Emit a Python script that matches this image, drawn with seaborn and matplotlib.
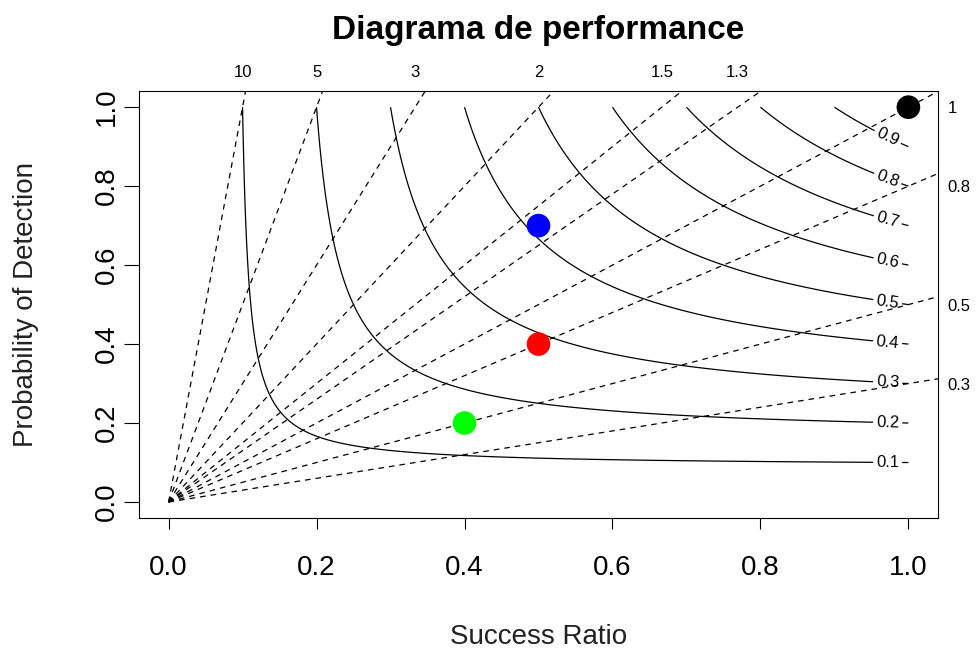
"""
Diagrama de performance (Roebber) : POD vs Success Ratio,
contours CSI (traits pleins) et biais (tirets).
"""

import numpy as np
import pandas as pd
import matplotlib
matplotlib.use("Agg")
import matplotlib.pyplot as plt
import seaborn as sns

# ── Données ──────────────────────────────────────────────
csi_levels = [0.1, 0.2, 0.3, 0.4, 0.5, 0.6, 0.7, 0.8, 0.9]
bias_levels = [0.3, 0.5, 0.8, 1, 1.3, 1.5, 2, 3, 5, 10]

point_names = ["A", "B", "C", "D"]
point_sr = [1.0, 0.5, 0.5, 0.4]
point_pod = [1.0, 0.7, 0.4, 0.2]
point_colors = ["#000000", "#0000FF", "#FF0000", "#00FF00"]

# ── Style ────────────────────────────────────────────────
sns.set_theme(style="white")
plt.rcParams["font.family"] = ["Liberation Sans", "DejaVu Sans"]

fig = plt.figure(figsize=(9.78, 6.5), dpi=100)
ax = fig.add_axes([0.1421, 0.2034, 0.817, 0.656])
ax.set_xlim(-0.04, 1.04)
ax.set_ylim(-0.04, 1.04)

# Contours CSI calculés sur une grille SR x POD
sr = np.linspace(0.001, 1, 600)
pod = np.linspace(0.001, 1, 600)
SR, POD = np.meshgrid(sr, pod)
CSI = 1 / (1 / SR + 1 / POD - 1)
cs = ax.contour(SR, POD, CSI, levels=csi_levels, colors="black", linewidths=0.9)

# étiquettes près du bord droit
x_lab = 0.972
positions = [(x_lab, 1 / (1 / c + 1 - 1 / x_lab)) for c in csi_levels]
ax.clabel(cs, fmt="%.1f", fontsize=12, manual=positions, inline=True,
          inline_spacing=3)

# Lignes de biais (droites POD = biais * SR)
x_line = np.linspace(0, 1.04, 50)
for b in bias_levels:
    ax.plot(x_line, b * x_line, color="black", lw=0.9, dashes=(4.5, 4))

# Points
df = pd.DataFrame({"sr": point_sr, "pod": point_pod, "nom": point_names})
sns.scatterplot(data=df, x="sr", y="pod", hue="nom",
                palette=dict(zip(point_names, point_colors)),
                s=290, linewidth=0, legend=False, ax=ax, zorder=5)

# Axes principaux
ax.set_xticks([0, 0.2, 0.4, 0.6, 0.8, 1.0])
ax.set_yticks([0, 0.2, 0.4, 0.6, 0.8, 1.0])
ax.set_xticklabels([f"{v:.1f}" for v in ax.get_xticks()])
ax.set_yticklabels([f"{v:.1f}" for v in ax.get_yticks()],
                   rotation=90, va="center")
ax.tick_params(axis="x", direction="out", length=8, width=0.8, pad=19,
               labelsize=20, bottom=True, colors="black")
ax.tick_params(axis="y", direction="out", length=11, width=0.8, pad=3,
               labelsize=20, left=True, colors="black")
for s in ax.spines.values():
    s.set_color("black")
    s.set_linewidth(0.8)

ax.set_xlabel("Success Ratio", fontsize=20, color="#222222", va="center")
ax.xaxis.set_label_coords(0.5, -0.28)
ax.set_ylabel("Probability of Detection", fontsize=20, color="#222222",
              va="center")
ax.yaxis.set_label_coords(-0.141, 0.5)
ax.set_title("Diagrama de performance", fontsize=24, fontweight="bold",
             color="black", pad=38)

# Étiquettes de biais : en haut (biais > 1) et à droite (biais <= 1)
top = ax.secondary_xaxis("top")
top_b = [b for b in bias_levels if b > 1]
top.set_xticks([1 / b for b in top_b], labels=[f"{b:g}" for b in top_b])
top.tick_params(length=0, pad=8, labelsize=12, colors="black")
top.spines["top"].set_visible(False)

right = ax.secondary_yaxis("right")
right_b = [b for b in bias_levels if b <= 1]
right.set_yticks(right_b, labels=[f"{b:g}" for b in right_b])
right.tick_params(length=0, pad=7, labelsize=12, colors="black")
right.spines["right"].set_visible(False)

fig.savefig("out.png", dpi=100)
plt.close(fig)
